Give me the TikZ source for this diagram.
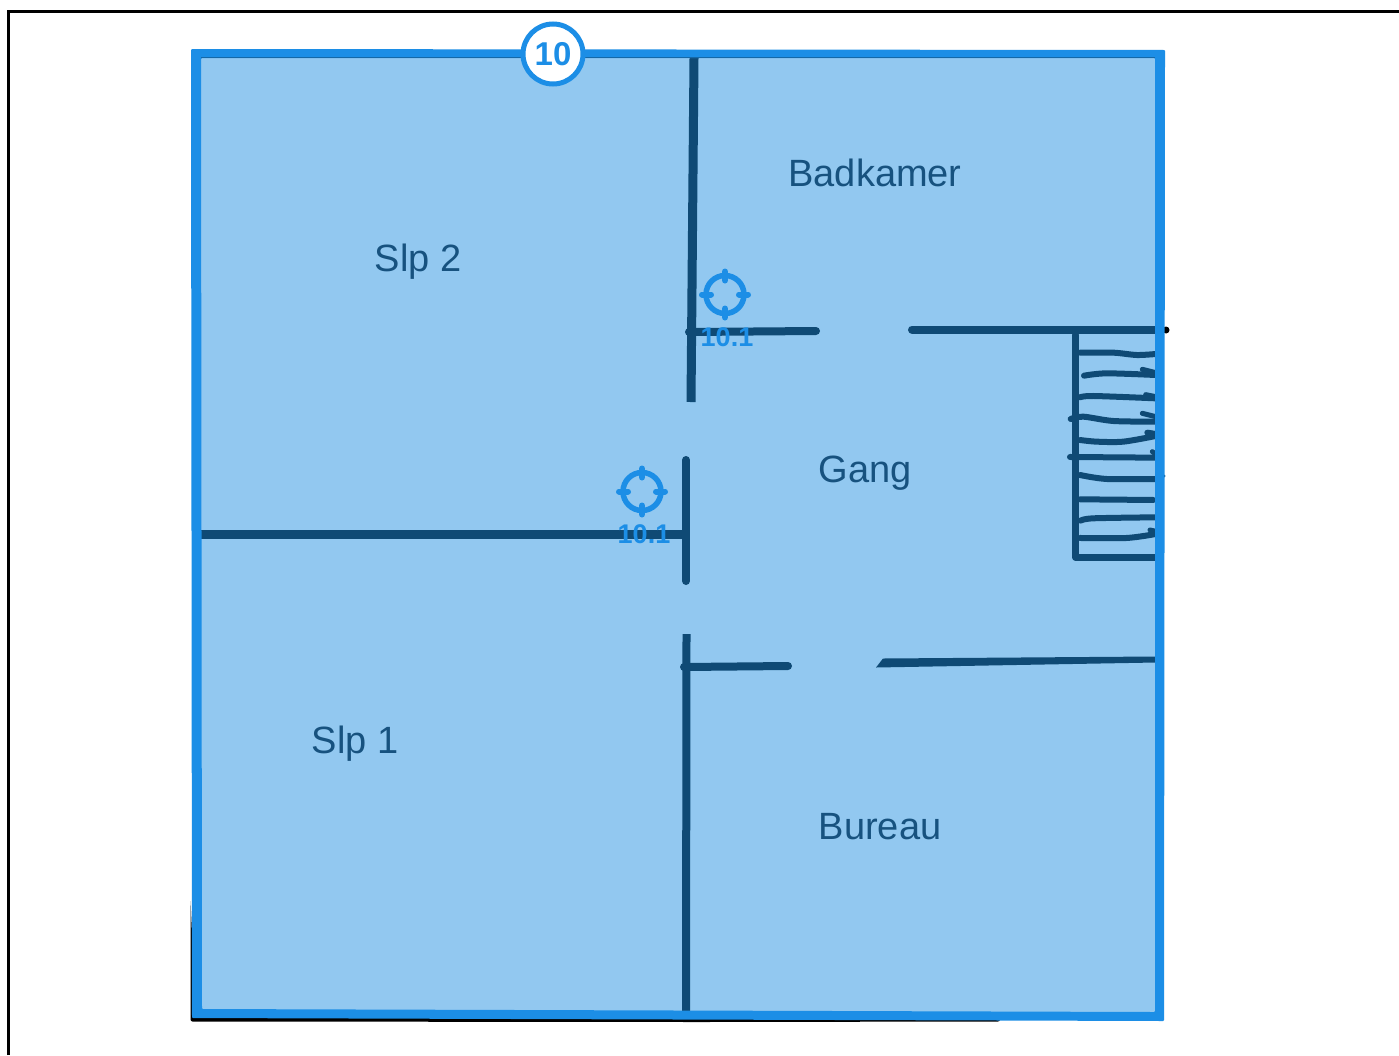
\documentclass[tikz,border=0pt]{standalone}
\usepackage{fontspec}
\setmainfont{Liberation Sans}
\definecolor{roomfill}{HTML}{92C8F0}
\definecolor{edgeblue}{HTML}{1C8EE6}
\definecolor{wallink}{HTML}{0F4A75}
\definecolor{labelink}{HTML}{17527F}
\tikzset{
  wall/.style={draw=wallink,line width=#1,line cap=round,line join=round},
  wall/.default=8pt,
  rung/.style={draw=wallink,line cap=round,line join=round},
  roomlabel/.style={text=labelink,font=\fontsize{38}{40}\selectfont,inner sep=0pt},
  pinlabel/.style={text=edgeblue,font=\bfseries\fontsize{27}{30}\selectfont,inner sep=0pt},
  pinring/.style={draw=edgeblue,line width=5.5pt},
  pintick/.style={draw=edgeblue,line width=6pt,line cap=round}
}
\newcommand{\targetpin}[3]{%
  \begin{scope}[shift={(#1,#2)}]
    \node[pinring,circle,minimum size=38pt,inner sep=0pt] (#3) at (0,0) {};
    \draw[pintick] (-23,0) -- (-14,0);
    \draw[pintick] (23,0) -- (14,0);
    \draw[pintick] (0,-23) -- (0,-14);
    \draw[pintick] (0,23) -- (0,14);
  \end{scope}}
\begin{document}
\begin{tikzpicture}[x=1pt,y=-1pt]
\useasboundingbox (0,0) rectangle (1399,1055);
\fill[white] (0,0) rectangle (1399,1055);
% page frame
\draw[black,line width=3pt] (8.5,1055) -- (8.5,11.5) -- (1399,11.5);
% drop edge
\fill[black,rounded corners=2pt] (190.5,900) -- (190.5,1021.5) -- (700,1022) -- (1000,1021.5) -- (1000,1010) -- (195,1000) -- cycle;
% floor
\fill[roomfill] (195,53) -- (1161,53) -- (1161,1016) -- (195,1014) -- cycle;
% walls
\draw[wall=9pt,line cap=butt] (694,58) -- (691,402);
\draw[wall] (689,332) -- (816,331);
\draw[wall] (912,329.5) -- (1155,329.5);
\fill[black] (1166,330) circle (3.5pt);
\fill[wallink] (1164,476) circle (1.5pt);
\draw[wall] (686,460) -- (686,581);
\draw[wall=9pt,line cap=butt] (201,534) -- (689,534);
\draw[wall,line cap=butt] (686.5,634) -- (686,1011);
\draw[wall] (684,667) -- (788,666);
\fill[wallink] (883,658.5) -- (1156,656.5) -- (1156,662.5) -- (876,667.5) -- cycle;
% stairs
\begin{scope}[shift={(1040,310)},x=0.3333pt,y=-0.3333pt]
  \draw[rung,line width=7pt] (107,75) -- (107,742) -- (347,742);
  \draw[rung,line width=6pt] plot[smooth] coordinates {(120,128) (220,128) (290,135) (347,132)};
  \draw[rung,line width=6pt] plot[smooth] coordinates {(132,197) (200,190) (347,195)};
  \draw[rung,line width=5pt] (307,178) -- (347,188);
  \draw[rung,line width=6pt] plot[smooth] coordinates {(120,262) (160,258) (347,265)};
  \draw[rung,line width=5pt] (317,254) -- (347,260);
  \draw[rung,line width=6pt] plot[smooth] coordinates {(92,327) (130,320) (220,333) (347,335)};
  \draw[rung,line width=5pt] (307,310) -- (347,320);
  \draw[rung,line width=6pt] plot[smooth] coordinates {(120,390) (170,395) (250,395) (347,378)};
  \draw[rung,line width=6pt] (322,368) -- (347,372);
  \draw[rung,line width=6pt] (90,441) -- (347,443);
  \draw[rung,line width=5pt] (337,425) -- (347,432);
  \draw[rung,line width=6pt] plot[smooth] coordinates {(120,495) (200,507) (347,507)};
  \draw[rung,line width=6pt] (120,568) -- (340,570);
  \draw[rung,line width=6pt] plot[smooth] coordinates {(122,632) (160,625) (347,622)};
  \draw[rung,line width=6pt] plot[smooth] coordinates {(120,684) (260,684) (347,672)};
  \draw[rung,line width=5pt] (330,660) -- (347,664);
\end{scope}
% coloured border
\fill[edgeblue,even odd rule,rounded corners=1pt]
  (191,49) -- (1165,50) -- (1164,1021) -- (192,1018) -- cycle
  (201,58) -- (1155,58) -- (1155,1012) -- (202,1009) -- cycle;
\fill[wallink,opacity=.55] (201,57.2) rectangle (1155,58.2);
% room labels
\node[roomlabel] (badkamer) at (875,173) {Badkamer};
\node[roomlabel] (slp2) at (418,262) {Slp 2};
\node[roomlabel] (gang) at (865,473) {Gang};
\node[roomlabel] (slp1) at (355,744) {Slp 1};
\node[roomlabel] (bureau) at (880,827) {Bureau};
% pins
\targetpin{725}{294.5}{pinA}
\targetpin{642}{491.5}{pinB}
\node[pinlabel] (pinAlabel) at (727,337) {10.1};
\node[pinlabel] (pinBlabel) at (644,534) {10.1};
% badge
\node[circle,draw=edgeblue,fill=white,line width=5pt,minimum size=60pt,inner sep=0pt,
  text=edgeblue,font=\bfseries\fontsize{33}{36}\selectfont] (badge) at (553,54) {10};
\end{tikzpicture}
\end{document}
